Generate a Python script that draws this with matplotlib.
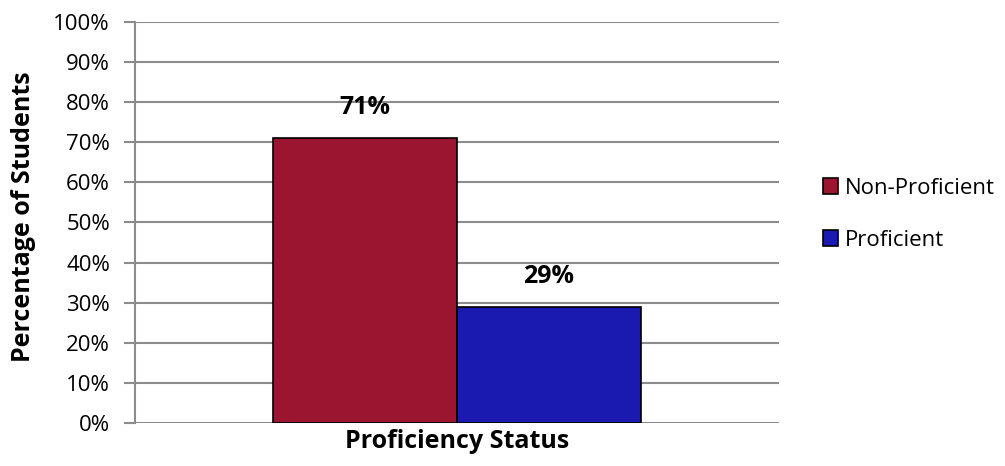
import numpy as np
import matplotlib.pyplot as plt
from matplotlib.ticker import PercentFormatter

#
#   data
#
categories = ["Proficiency Status"]
series = ["Non-Proficient", "Proficient"]
values = [71, 29]
colors = ["#9B1530", "#1A1AB0"]
yticks = list(range(0, 101, 10))

plt.rcParams['font.family'] = ['Open Sans', 'DejaVu Sans']

fig = plt.figure(figsize=(10.05, 4.66), dpi=100)
ax = fig.add_axes([0.1343, 0.0923, 0.6408, 0.8605])

width = 0.2857
offsets = [-width / 2, width / 2]
for name, val, col, off in zip(series, values, colors, offsets):
    ax.bar(0 + off, val, width, color=col, edgecolor="black", linewidth=1.2,
           label=name, zorder=3)
    ax.text(0 + off, val + 4.5, f"{val}%", ha="center", va="bottom",
            fontsize=18, fontweight="bold", zorder=4)

ax.set_xlim(-0.5, 0.5)
ax.set_ylim(0, 100)
ax.set_yticks(yticks)
ax.yaxis.set_major_formatter(PercentFormatter(decimals=0))
ax.set_xticks([])
ax.grid(axis="y", color="#8C8C8C", linewidth=1.5, zorder=0)
ax.tick_params(axis="y", length=8, color="#8C8C8C", width=1.5, labelsize=16, pad=10)

for s in ["top", "right", "bottom"]:
    ax.spines[s].set_visible(False)
ax.spines["left"].set_color("#8C8C8C")
ax.spines["left"].set_linewidth(1.5)

ax.set_ylabel("Percentage of Students", fontsize=18, fontweight="bold", labelpad=10)
ax.yaxis.set_label_coords(-0.153, 0.515)
ax.set_xlabel(categories[0], fontsize=18, fontweight="bold", labelpad=4)

ax.legend(loc="center left", bbox_to_anchor=(1.037, 0.52), frameon=False,
          fontsize=16, handlelength=0.7, handleheight=0.7, handletextpad=0.3,
          labelspacing=1.4)

fig.savefig("out.png", dpi=100)
